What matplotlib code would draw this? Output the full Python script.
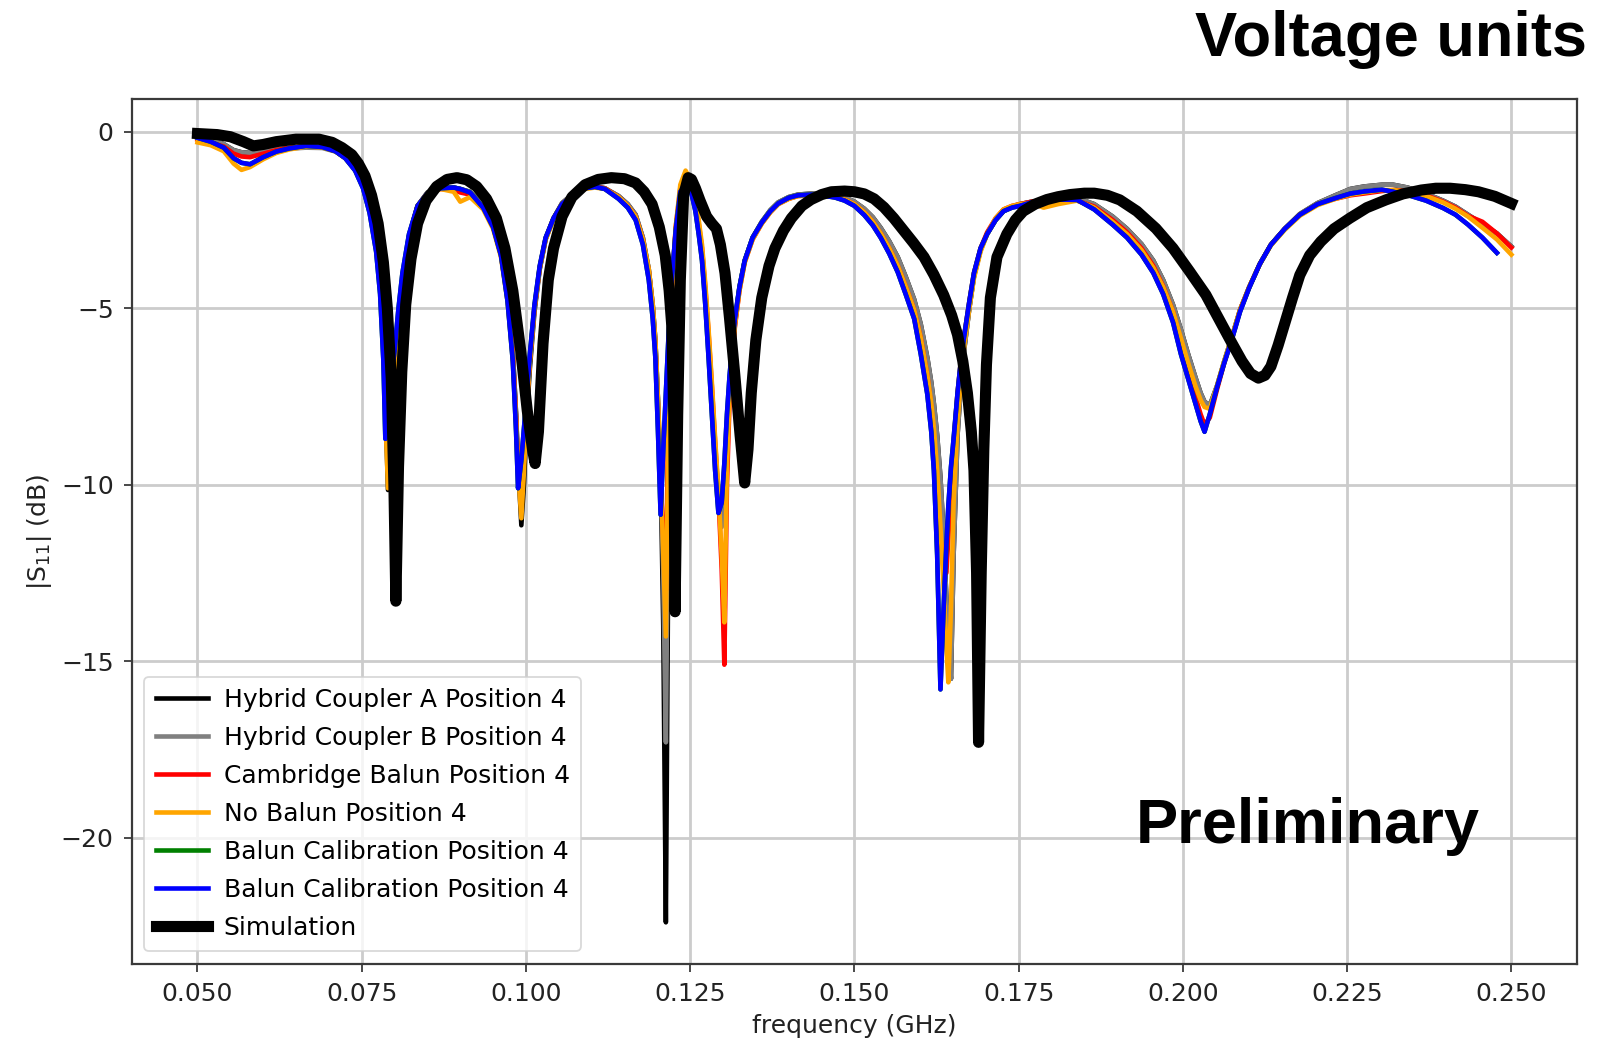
#!/usr/bin/env python3
# -*- coding: utf-8 -*-

import numpy as np
import matplotlib
matplotlib.use("Agg")
import matplotlib.pyplot as plt

nan = np.nan

# measured sweep, frequency in GHz (shared by all measured curves)
freq_meas = [
    0.0500, 0.0520, 0.0540, 0.0555, 0.0567, 0.0580, 0.0600, 0.0620, 0.0640, 0.0665,
    0.0690, 0.0710, 0.0725, 0.0740, 0.0752, 0.0762, 0.0772, 0.0778, 0.0783, 0.0786,
    0.0790, 0.0795, 0.0800, 0.0806, 0.0812, 0.0822, 0.0835, 0.0850, 0.0870, 0.0890,
    0.0900, 0.0915, 0.0935, 0.0950, 0.0962, 0.0972, 0.0980, 0.0985, 0.0988, 0.0993,
    0.0997, 0.1001, 0.1006, 0.1013, 0.1021, 0.1030, 0.1042, 0.1055, 0.1072, 0.1090,
    0.1105, 0.1120, 0.1141, 0.1155, 0.1167, 0.1178, 0.1187, 0.1193, 0.1197, 0.1201,
    0.1205, 0.1209, 0.1213, 0.1217, 0.1222, 0.1228, 0.1235, 0.1243, 0.1252, 0.1258,
    0.1263, 0.1268, 0.1273, 0.1278, 0.1283, 0.1288, 0.1293, 0.1298, 0.1302, 0.1306,
    0.1310, 0.1318, 0.1325, 0.1333, 0.1345, 0.1359, 0.1372, 0.1384, 0.1400, 0.1414,
    0.1435, 0.1455, 0.1470, 0.1485, 0.1500, 0.1515, 0.1528, 0.1540, 0.1553, 0.1566,
    0.1578, 0.1591, 0.1601, 0.1611, 0.1617, 0.1621, 0.1626, 0.1631, 0.1636, 0.1640,
    0.1643, 0.1647, 0.1651, 0.1657, 0.1662, 0.1667, 0.1675, 0.1682, 0.1692, 0.1702,
    0.1715, 0.1727, 0.1740, 0.1752, 0.1770, 0.1788, 0.1810, 0.1839, 0.1865, 0.1893,
    0.1915, 0.1937, 0.1955, 0.1970, 0.1985, 0.1997, 0.2008, 0.2019, 0.2027, 0.2033,
    0.2041, 0.2052, 0.2063, 0.2074, 0.2087, 0.2101, 0.2117, 0.2134, 0.2155, 0.2178,
    0.2205, 0.2232, 0.2255, 0.2276, 0.2303, 0.2320, 0.2342, 0.2370, 0.2396, 0.2415,
    0.2434, 0.2456, 0.2478, 0.2500,
]

# |S11| in dB, one list per measured setup
hybrid_a_db = [
    -0.12, -0.22, -0.35, -0.52, -0.58, -0.60, -0.55, -0.50, -0.46, -0.42,
    -0.44, -0.55, -0.74, -1.05, -1.50, -2.15, -3.20, -4.20, -5.80, -7.70,
    -10.15, -8.60, -7.10, -5.50, -4.30, -3.00, -2.10, -1.72, -1.58, -1.58,
    -1.62, -1.70, -2.10, -2.62, -3.40, -4.60, -6.20, -8.00, -9.40, -11.15,
    -10.00, -8.20, -6.70, -5.10, -3.90, -3.05, -2.45, -2.02, -1.75, -1.58,
    -1.55, -1.60, -1.82, -2.05, -2.35, -3.00, -3.90, -4.90, -5.90, -7.60,
    -9.60, -14.00, -22.40, -11.00, -5.00, -2.90, -1.70, -1.50, -1.70, -2.15,
    -2.80, -3.50, -4.70, -6.10, -7.70, -9.30, -10.60, -11.00, -10.20, -8.60,
    -7.10, -5.40, -4.40, -3.65, -3.00, -2.55, -2.22, -2.00, -1.85, -1.78,
    -1.75, -1.78, -1.80, -1.86, -1.98, -2.18, -2.42, -2.72, -3.10, -3.55,
    -4.10, -4.75, -5.45, -6.40, -7.10, -7.70, -8.60, -9.80, -11.50, -13.20,
    -14.50, -15.50, -12.00, -8.60, -7.20, -6.20, -5.00, -4.10, -3.35, -2.90,
    -2.50, -2.25, -2.12, -2.05, -1.98, -1.95, -1.90, -1.88, -2.05, -2.40,
    -2.75, -3.18, -3.65, -4.20, -4.90, -5.60, -6.30, -6.95, -7.40, -7.65,
    -7.75, -7.20, -6.50, -5.85, -5.05, -4.40, -3.75, -3.20, -2.75, -2.33,
    -2.02, -1.80, -1.62, -1.55, -1.50, -1.50, -1.58, -1.75, -1.95, -2.12,
    -2.35, -2.62, -2.88, -3.25,
]

hybrid_b_db = [
    -0.12, -0.22, -0.35, -0.52, -0.58, -0.60, -0.55, -0.50, -0.48, -0.45,
    -0.46, -0.56, -0.74, -1.05, -1.50, -2.15, -3.20, -4.20, -5.80, -7.70,
    -9.60, -8.40, -6.90, -5.30, -4.20, -2.95, -2.10, -1.72, -1.58, -1.58,
    -1.62, -1.70, -2.10, -2.62, -3.40, -4.60, -6.20, -8.00, -9.40, -10.30,
    -9.30, -7.80, -6.45, -5.00, -3.85, -3.02, -2.45, -2.02, -1.75, -1.58,
    -1.55, -1.60, -1.82, -2.05, -2.35, -3.00, -3.90, -4.90, -5.90, -7.60,
    -9.60, -12.50, -17.30, -9.00, -4.60, -2.80, -1.65, -1.45, -1.65, -2.10,
    -2.70, -3.40, -4.60, -5.90, -7.40, -9.00, -10.40, -11.20, -10.50, -8.80,
    -7.20, -5.45, -4.45, -3.65, -3.00, -2.55, -2.22, -2.00, -1.85, -1.78,
    -1.75, -1.78, -1.80, -1.86, -1.98, -2.18, -2.42, -2.72, -3.10, -3.55,
    -4.10, -4.75, -5.45, -6.40, -7.10, -7.70, -8.60, -9.80, -11.50, -13.20,
    -14.50, -15.50, -12.00, -8.60, -7.20, -6.20, -5.00, -4.10, -3.35, -2.90,
    -2.50, -2.25, -2.12, -2.05, -1.98, -1.95, -1.90, -1.88, -2.05, -2.40,
    -2.75, -3.18, -3.65, -4.20, -4.90, -5.60, -6.30, -6.95, -7.40, -7.65,
    -7.75, -7.20, -6.50, -5.85, -5.05, -4.40, -3.75, -3.20, -2.75, -2.33,
    -2.02, -1.80, -1.62, -1.55, -1.50, -1.50, -1.58, -1.75, -1.95, -2.12,
    -2.35, -2.62, -2.88, -3.25,
]

cambridge_db = [
    -0.22, -0.30, -0.42, -0.62, -0.70, -0.72, -0.62, -0.52, -0.45, -0.40,
    -0.43, -0.55, -0.74, -1.06, -1.52, -2.20, -3.25, -4.30, -5.90, -7.80,
    -9.40, -8.20, -6.80, -5.30, -4.20, -2.95, -2.10, -1.75, -1.62, -1.65,
    -1.72, -1.78, -2.15, -2.70, -3.50, -4.70, -6.30, -8.10, -9.50, -10.40,
    -9.30, -7.80, -6.45, -5.00, -3.85, -3.02, -2.45, -2.05, -1.78, -1.60,
    -1.56, -1.60, -1.85, -2.10, -2.40, -3.05, -3.95, -5.00, -6.00, -7.80,
    -9.80, -11.50, -13.00, -7.50, -4.40, -2.70, -1.60, -1.30, -1.55, -2.00,
    -2.60, -3.30, -4.40, -5.70, -7.20, -8.80, -10.30, -12.40, -15.10, -10.00,
    -7.60, -5.55, -4.50, -3.70, -3.05, -2.60, -2.28, -2.05, -1.90, -1.82,
    -1.80, -1.82, -1.85, -1.92, -2.05, -2.28, -2.55, -2.88, -3.30, -3.80,
    -4.38, -5.05, -5.85, -6.90, -7.80, -8.60, -10.00, -11.50, -12.40, -12.50,
    -11.50, -10.00, -8.80, -7.40, -6.50, -5.80, -4.80, -4.00, -3.30, -2.85,
    -2.45, -2.20, -2.10, -2.05, -1.98, -1.95, -1.95, -1.95, -2.12, -2.50,
    -2.85, -3.30, -3.80, -4.38, -5.10, -5.90, -6.70, -7.50, -8.00, -8.30,
    -8.10, -7.30, -6.55, -5.90, -5.05, -4.40, -3.75, -3.20, -2.75, -2.35,
    -2.05, -1.90, -1.80, -1.75, -1.68, -1.65, -1.68, -1.80, -1.98, -2.15,
    -2.38, -2.55, -2.88, -3.28,
]

no_balun_db = [
    -0.30, -0.38, -0.55, -0.90, -1.08, -1.00, -0.78, -0.60, -0.50, -0.42,
    -0.44, -0.55, -0.75, -1.08, -1.55, -2.25, -3.30, -4.40, -6.00, -8.00,
    -10.10, -8.50, -7.00, -5.40, -4.25, -3.00, -2.15, -1.78, -1.62, -1.70,
    -1.98, -1.85, -2.20, -2.75, -3.55, -4.80, -6.40, -8.20, -9.60, -10.95,
    -9.60, -7.90, -6.50, -5.00, -3.85, -3.05, -2.50, -2.08, -1.80, -1.62,
    -1.58, -1.62, -1.85, -2.10, -2.40, -3.05, -3.90, -4.90, -5.90, -7.60,
    -9.60, -12.00, -14.30, -8.00, -4.50, -2.70, -1.50, -1.10, -1.40, -1.90,
    -2.50, -3.20, -4.30, -5.60, -7.10, -8.70, -10.20, -12.00, -13.90, -9.50,
    -7.40, -5.50, -4.50, -3.70, -3.05, -2.60, -2.28, -2.05, -1.90, -1.82,
    -1.80, -1.82, -1.85, -1.92, -2.05, -2.28, -2.55, -2.88, -3.30, -3.80,
    -4.38, -5.05, -5.85, -6.90, -7.70, -8.40, -9.60, -11.20, -13.00, -14.60,
    -15.60, -13.50, -10.50, -8.20, -7.00, -6.10, -5.00, -4.15, -3.40, -2.90,
    -2.45, -2.20, -2.10, -2.05, -2.02, -2.15, -2.05, -1.95, -2.15, -2.55,
    -2.90, -3.35, -3.85, -4.40, -5.10, -5.85, -6.55, -7.20, -7.60, -7.80,
    -7.85, -7.20, -6.50, -5.85, -5.05, -4.40, -3.75, -3.22, -2.78, -2.38,
    -2.08, -1.90, -1.78, -1.72, -1.65, -1.65, -1.70, -1.82, -2.00, -2.18,
    -2.40, -2.72, -3.05, -3.48,
]

# green and blue are the same measurement, green hidden underneath
balun_cal_db = [
    -0.17, -0.28, -0.45, -0.75, -0.88, -0.92, -0.72, -0.56, -0.47, -0.40,
    -0.43, -0.55, -0.75, -1.10, -1.60, -2.30, -3.40, -4.60, -6.50, -8.70,
    -8.00, -7.00, -6.20, -5.00, -4.00, -2.90, -2.10, -1.75, -1.60, -1.58,
    -1.62, -1.72, -2.15, -2.70, -3.50, -4.80, -6.50, -8.50, -10.10, -9.30,
    -8.40, -7.50, -6.30, -4.90, -3.80, -3.00, -2.45, -2.05, -1.78, -1.60,
    -1.56, -1.62, -1.90, -2.15, -2.50, -3.20, -4.20, -5.30, -6.40, -8.50,
    -10.85, -9.00, -7.40, -5.80, -4.20, -2.80, -1.70, -1.50, -1.75, -2.25,
    -2.90, -3.65, -4.90, -6.40, -8.00, -9.60, -10.80, -10.50, -9.40, -8.00,
    -6.90, -5.30, -4.40, -3.65, -3.00, -2.57, -2.25, -2.03, -1.87, -1.80,
    -1.78, -1.82, -1.86, -1.95, -2.10, -2.36, -2.65, -3.00, -3.45, -3.98,
    -4.60, -5.30, -6.30, -7.44, -8.50, -9.60, -12.00, -15.80, -13.40, -11.70,
    -10.60, -9.50, -8.70, -7.40, -6.50, -5.80, -4.80, -4.00, -3.30, -2.90,
    -2.50, -2.25, -2.15, -2.10, -2.00, -1.95, -1.92, -1.93, -2.20, -2.63,
    -3.00, -3.48, -4.00, -4.60, -5.40, -6.30, -7.00, -7.70, -8.20, -8.50,
    -8.00, -7.24, -6.55, -5.92, -5.10, -4.42, -3.75, -3.20, -2.75, -2.35,
    -2.05, -1.88, -1.75, -1.69, -1.64, -1.70, -1.79, -1.95, -2.16, -2.35,
    -2.63, -3.00, -3.43, nan,
]

# simulation
freq_sim = [
    0.0500, 0.0530, 0.0550, 0.0570, 0.0585, 0.0600, 0.0620, 0.0650, 0.0685, 0.0705,
    0.0720, 0.0735, 0.0745, 0.0755, 0.0765, 0.0775, 0.0783, 0.0789, 0.0795, 0.0799,
    0.0802, 0.0806, 0.0811, 0.0817, 0.0825, 0.0835, 0.0848, 0.0864, 0.0880, 0.0895,
    0.0910, 0.0925, 0.0940, 0.0955, 0.0968, 0.0980, 0.0992, 0.1002, 0.1010, 0.1014,
    0.1019, 0.1026, 0.1034, 0.1042, 0.1055, 0.1070, 0.1090, 0.1110, 0.1130, 0.1150,
    0.1167, 0.1180, 0.1192, 0.1203, 0.1212, 0.1218, 0.1222, 0.1225, 0.1227, 0.1231,
    0.1235, 0.1240, 0.1247, 0.1252, 0.1258, 0.1265, 0.1275, 0.1283, 0.1290, 0.1296,
    0.1303, 0.1310, 0.1318, 0.1326, 0.1333, 0.1338, 0.1343, 0.1350, 0.1359, 0.1370,
    0.1379, 0.1392, 0.1404, 0.1420, 0.1434, 0.1450, 0.1465, 0.1485, 0.1500, 0.1515,
    0.1530, 0.1545, 0.1560, 0.1575, 0.1590, 0.1606, 0.1621, 0.1636, 0.1648, 0.1657,
    0.1665, 0.1672, 0.1678, 0.1682, 0.1686, 0.1689, 0.1693, 0.1697, 0.1701, 0.1707,
    0.1717, 0.1732, 0.1745, 0.1757, 0.1775, 0.1793, 0.1810, 0.1828, 0.1850, 0.1865,
    0.1885, 0.1904, 0.1930, 0.1959, 0.1985, 0.2010, 0.2035, 0.2057, 0.2075, 0.2090,
    0.2103, 0.2115, 0.2125, 0.2134, 0.2145, 0.2156, 0.2167, 0.2178, 0.2193, 0.2210,
    0.2230, 0.2254, 0.2280, 0.2309, 0.2335, 0.2363, 0.2385, 0.2407, 0.2430, 0.2450,
    0.2475, 0.2500,
]

sim_db = [
    -0.05, -0.08, -0.14, -0.28, -0.40, -0.36, -0.28, -0.21, -0.21, -0.30,
    -0.45, -0.65, -0.90, -1.25, -1.80, -2.60, -3.70, -5.00, -7.00, -10.00,
    -13.30, -9.50, -6.80, -4.90, -3.60, -2.60, -1.95, -1.55, -1.35, -1.30,
    -1.36, -1.55, -1.90, -2.45, -3.30, -4.50, -6.20, -7.90, -9.00, -9.40,
    -8.50, -6.00, -4.20, -3.30, -2.40, -1.85, -1.50, -1.35, -1.30, -1.33,
    -1.45, -1.70, -2.05, -2.70, -3.50, -4.50, -5.50, -8.00, -13.60, -8.00,
    -4.20, -1.80, -1.30, -1.35, -1.60, -1.95, -2.40, -2.60, -2.75, -3.20,
    -4.00, -5.30, -6.90, -8.60, -9.95, -9.00, -7.40, -5.90, -4.70, -3.80,
    -3.30, -2.80, -2.45, -2.10, -1.92, -1.78, -1.70, -1.68, -1.70, -1.76,
    -1.90, -2.14, -2.45, -2.80, -3.15, -3.55, -4.05, -4.63, -5.20, -5.75,
    -6.50, -7.40, -8.50, -9.60, -12.50, -17.30, -12.50, -9.00, -6.60, -4.70,
    -3.55, -2.90, -2.50, -2.25, -2.05, -1.92, -1.84, -1.78, -1.74, -1.74,
    -1.80, -1.93, -2.25, -2.74, -3.30, -3.95, -4.62, -5.38, -6.00, -6.50,
    -6.85, -6.98, -6.90, -6.65, -6.05, -5.38, -4.70, -4.06, -3.50, -3.11,
    -2.75, -2.45, -2.15, -1.93, -1.76, -1.65, -1.60, -1.60, -1.64, -1.70,
    -1.83, -2.03,
]

labels = [
    "Hybrid Coupler A Position 4",
    "Hybrid Coupler B Position 4",
    "Cambridge Balun Position 4",
    "No Balun Position 4",
    "Balun Calibration Position 4",
    "Balun Calibration Position 4",
    "Simulation",
]
colors = ["black", "grey", "red", "orange", "green", "blue", "black"]
xticks = [0.050, 0.075, 0.100, 0.125, 0.150, 0.175, 0.200, 0.225, 0.250]
yticks = [0, -5, -10, -15, -20]


def plot_s11():
    """
    draw the S11 comparison and save it
    """
    plt.rcParams['font.family'] = ['DejaVu Sans']
    fig = plt.figure(figsize=(16.13, 10.46), dpi=100)
    ax = fig.add_axes([0.0817, 0.0784, 0.896, 0.827])

    series = [hybrid_a_db, hybrid_b_db, cambridge_db, no_balun_db,
              balun_cal_db, balun_cal_db]
    for vals, lab, col in zip(series, labels[:6], colors[:6]):
        ax.plot(freq_meas, vals, color=col, lw=3.3, label=lab)
    ax.plot(freq_sim, sim_db, color=colors[6], lw=8, label=labels[6])

    ax.set_xlim(0.04, 0.26)
    ax.set_ylim(-23.58, 0.93)
    ax.set_xticks(xticks)
    ax.set_xticklabels([f"{t:.3f}" for t in xticks])
    ax.set_yticks(yticks)
    ax.set_yticklabels(["0", "\u22125", "\u221210", "\u221215", "\u221220"])

    ax.grid(True, color='#cccccc', lw=2.0)
    ax.set_axisbelow(True)
    for sp in ax.spines.values():
        sp.set_linewidth(1.6)
        sp.set_color('#3a3a3a')
    ax.tick_params(length=6, width=1.3, pad=7, labelsize=18,
                   colors='#3a3a3a', labelcolor='#222222')

    ax.set_xlabel("frequency (GHz)", fontsize=18, labelpad=6, color='#222222')
    ax.set_ylabel("|S$_{11}$| (dB)", fontsize=18, labelpad=5, color='#222222')

    leg = ax.legend(loc='lower left', fontsize=18, labelspacing=0.56,
                    handlelength=2.1, handletextpad=0.62, borderpad=0.45,
                    borderaxespad=0.5, framealpha=0.8, edgecolor='#d0d0d0')
    leg.get_frame().set_linewidth(1.3)

    fig.text(0.984, 0.946, "Voltage units", ha='right', va='baseline',
             fontsize=45.5, fontweight='bold', family=['Liberation Sans'])
    fig.text(0.7043, 0.194, "Preliminary", ha='left', va='baseline',
             fontsize=45.5, fontweight='bold', family=['Liberation Sans'])

    fig.savefig("out.png", dpi=100)


if __name__ == '__main__':
    plot_s11()
